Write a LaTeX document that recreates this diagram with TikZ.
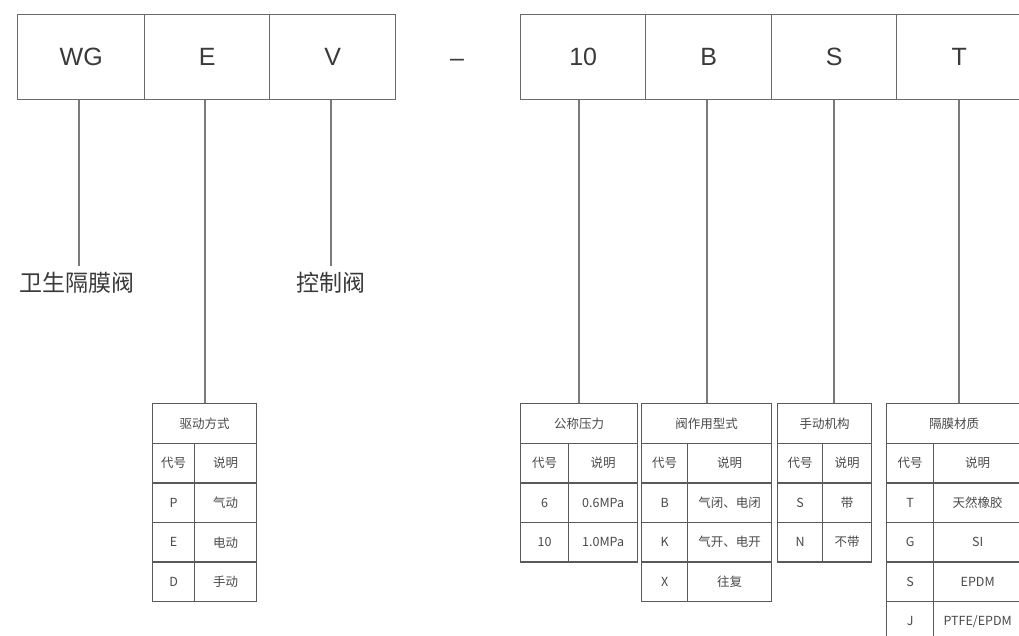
\documentclass[tikz,border=0pt]{standalone}
\usepackage{fontspec}
\setmainfont{Liberation Sans}
\newfontfamily\cjk{Noto Sans CJK SC}
\definecolor{boxc}{HTML}{6A6A6A}
\definecolor{txtc}{HTML}{3A3A3A}
\definecolor{tabtxt}{HTML}{4A4A4A}
\definecolor{tabline}{HTML}{5A5A5A}
\definecolor{conc}{HTML}{7A7A7A}
\tikzset{
  codebox/.style={draw=boxc, line width=1.4pt, anchor=north west, minimum height=85pt, inner sep=0pt,
    text=txtc, font=\fontsize{25}{30}\selectfont},
  lbl/.style={anchor=north, inner xsep=2pt, inner ysep=6pt, text=txtc, font=\cjk\fontsize{23}{27}\selectfont},
  cell/.style={draw=tabline, line width=1.3pt, anchor=north west, inner sep=0pt, minimum height=39.6pt,
    text=tabtxt, font=\cjk\fontsize{12.5}{14}\selectfont},
  conn/.style={draw=conc, line width=1.7pt}
}
% cell: name, x, y, width, text
\newcommand\tcell[5]{\node[cell, minimum width=#4pt] (#1) at (#2,#3) {#5};}
% table head: name, xl, xd, xr, header
\newcommand\dtab[5]{%
  \tcell{#1}{#2}{403}{\fpeval{#4-#2}}{#5}%
  \tcell{#1ka}{#2}{442.6}{\fpeval{#3-#2}}{代号}%
  \tcell{#1kb}{#3}{442.6}{\fpeval{#4-#3}}{说明}}
% row: name, xl, xd, xr, k, code, desc
\newcommand\trow[7]{%
  \tcell{#1a}{#2}{\fpeval{403+39.6*(#5+1)}}{\fpeval{#3-#2}}{#6}%
  \tcell{#1b}{#3}{\fpeval{403+39.6*(#5+1)}}{\fpeval{#4-#3}}{#7}}
\begin{document}
\begin{tikzpicture}[x=1pt,y=-1pt]
\clip (0,0) rectangle (1019,635);
\fill[white] (0,0) rectangle (1019,635);
% top code boxes
\node[codebox, minimum width=127pt] (bWG) at (17,14) {WG};
\node[codebox, minimum width=125pt] (bE) at (144,14) {E};
\node[codebox, minimum width=126pt] (bV) at (269,14) {V};
\node[text=txtc, font=\fontsize{25}{30}\selectfont] (dash) at (457,63) {–};
\node[codebox, minimum width=125pt] (b10) at (520,14) {10};
\node[codebox, minimum width=126pt] (bB) at (645,14) {B};
\node[codebox, minimum width=125pt] (bS) at (771,14) {S};
\node[codebox, minimum width=125pt] (bT) at (896,14) {T};
% labels
\node[lbl] (l1) at (77,266) {卫生隔膜阀};
\node[lbl] (l2) at (331,266) {控制阀};
% tables
\dtab{ta}{152}{194}{256}{驱动方式}
\trow{ta1}{152}{194}{256}{1}{P}{气动}
\trow{ta2}{152}{194}{256}{2}{E}{电动}
\trow{ta3}{152}{194}{256}{3}{D}{手动}
\dtab{tb}{520}{568}{637}{公称压力}
\trow{tb1}{520}{568}{637}{1}{6}{0.6MPa}
\trow{tb2}{520}{568}{637}{2}{10}{1.0MPa}
\dtab{tc}{641}{687}{771}{阀作用型式}
\trow{tc1}{641}{687}{771}{1}{B}{气闭、电闭}
\trow{tc2}{641}{687}{771}{2}{K}{气开、电开}
\trow{tc3}{641}{687}{771}{3}{X}{往复}
\dtab{td}{777}{822}{871}{手动机构}
\trow{td1}{777}{822}{871}{1}{S}{带}
\trow{td2}{777}{822}{871}{2}{N}{不带}
\dtab{te}{886}{933}{1021}{隔膜材质}
\trow{te1}{886}{933}{1021}{1}{T}{天然橡胶}
\trow{te2}{886}{933}{1021}{2}{G}{SI}
\trow{te3}{886}{933}{1021}{3}{S}{EPDM}
\trow{te4}{886}{933}{1021}{4}{J}{PTFE/EPDM}
% connectors
\draw[conn] ([xshift=-2pt]bWG.south) -- ([xshift=-2pt]bWG.south |- l1.north);
\draw[conn] (ta.north |- bE.south) -- (ta.north);
\draw[conn] ([xshift=-2pt]bV.south) -- ([xshift=-2pt]bV.south |- l2.north);
\draw[conn] (tb.north |- b10.south) -- (tb.north);
\draw[conn] (tc.north |- bB.south) -- (tc.north);
\draw[conn] (bS.south) -- (bS.south |- td.north);
\draw[conn] (bT.south) -- (bT.south |- te.north);
\end{tikzpicture}
\end{document}
